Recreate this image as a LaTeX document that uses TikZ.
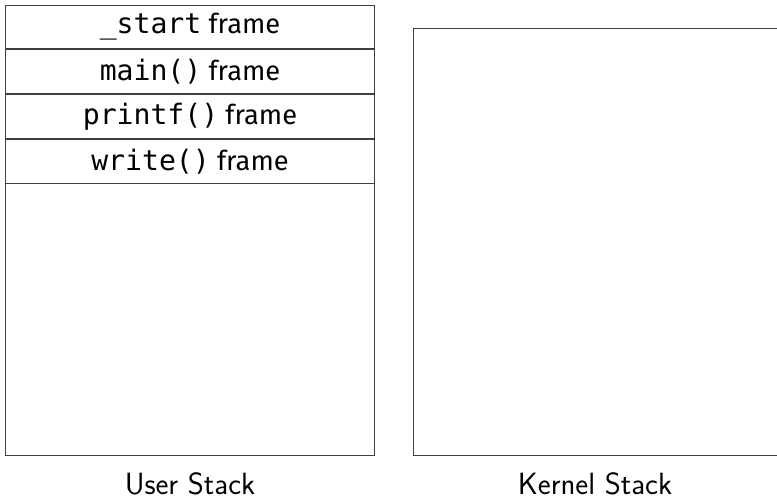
\documentclass[tikz,border=0pt]{standalone}
\usepackage{fontspec}
\newfontfamily\cellfont{Fira Sans}
\newfontfamily\codefont{DejaVu Sans Mono}
\usetikzlibrary{positioning}
\tikzset{>=latex}
\tikzset{
  stackbox/.style={rectangle, draw=black!75, line width=0.6pt, inner sep=0pt},
  cellbox/.style={rectangle, draw=black!75, line width=0.6pt, inner sep=0pt,
    minimum width=7.4cm, minimum height=0.875cm, font=\cellfont\fontsize{15.5}{18}\selectfont},
  stacklabel/.style={font=\sffamily\fontsize{17.5}{21}\selectfont, inner sep=0pt}
}
\newcommand{\fn}[1]{{\codefont\fontsize{16}{18}\selectfont #1}}

\begin{document}
\begin{tikzpicture}[x=0.02cm,y=-0.02cm]
	\useasboundingbox (0,0) rectangle (777,501);
	\clip (0,0) rectangle (777,501);

	\node[stackbox, minimum width=7.4cm, minimum height=9.02cm] (user) at (190,230.5) {};
	\node[stackbox, minimum width=7.3cm, minimum height=8.56cm] (kernel) at (595.5,242) {};

	% frames on the user stack
	\node[cellbox, anchor=north] (start) at (user.north) {\fn{\_start} frame};
	\node[cellbox, anchor=north] (main) at (start.south) {\fn{main()} frame};
	\node[cellbox, anchor=north] (printf) at (main.south) {\fn{printf()} frame};
	\node[cellbox, anchor=north] (write) at (printf.south) {\fn{write()} frame};

	\node[stacklabel, anchor=base] (userlabel) at (190,494) {User Stack};
	\node[stacklabel, anchor=base] (kernellabel) at (595,494) {Kernel Stack};
\end{tikzpicture}
\end{document}
